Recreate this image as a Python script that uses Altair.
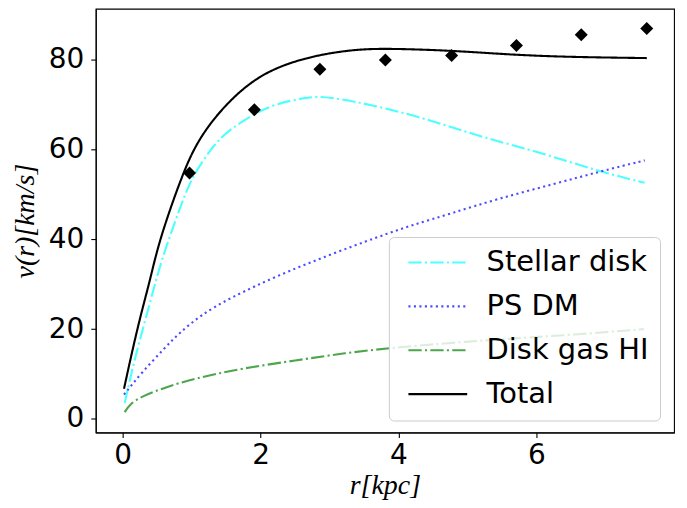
import altair as alt
import pandas as pd

stellar_r = [0.03, 0.17, 0.37, 0.56, 0.82, 0.99, 1.26, 1.50, 1.93, 2.22, 2.70, 3.00, 3.76, 4.48, 5.20, 6.03, 6.94, 7.57]
stellar_v = [3.5, 13.2, 24.3, 35.4, 46.5, 53.5, 59.8, 64.0, 68.2, 70.2, 71.8, 71.8, 69.5, 66.5, 62.8, 59.5, 55.0, 52.6]

dm_r = [0.02, 0.27, 0.61, 0.82, 1.14, 1.55, 2.27, 2.99, 3.71, 4.20, 4.77, 5.45, 6.27, 6.94, 7.57]
dm_v = [5.4, 10.2, 15.8, 19.1, 23.2, 26.9, 32.1, 36.5, 40.6, 43.2, 45.8, 49.1, 52.4, 55.2, 57.6]

gas_r = [0.03, 0.10, 0.27, 0.65, 1.02, 1.74, 2.51, 3.23, 3.90, 4.80, 5.74, 6.50, 7.56]
gas_v = [1.5, 3.2, 5.0, 7.2, 8.9, 11.3, 13.0, 14.7, 15.8, 17.0, 18.0, 18.7, 20.0]

total_r = [0.02, 0.10, 0.25, 0.40, 0.53, 0.87, 1.09, 1.45, 1.98, 2.65, 3.28, 3.76, 4.73, 5.40, 6.00, 6.65, 7.60]
total_v = [6.7, 12.4, 22.5, 31.0, 39.8, 54.7, 62.1, 69.5, 76.9, 80.6, 82.2, 82.6, 82.1, 81.4, 80.9, 80.6, 80.4]

obs_r = [0.97, 1.91, 2.86, 3.81, 4.77, 5.71, 6.65, 7.60]
obs_v = [54.8, 68.9, 77.9, 80.0, 81.0, 83.2, 85.6, 87.0]

series_names = ["Stellar disk", "PS DM", "Disk gas HI", "Total"]
series_colors = ["#4dffff", "#4d4dff", "#4da64d", "#000000"]
series_dashes = [[13.3, 3.3, 2.1, 3.3], [2.1, 3.4], [13.3, 3.3, 2.1, 3.3], [1, 0]]

x_ticks = [0, 2, 4, 6]
y_ticks = [0, 20, 40, 60, 80]

frames = []
for name, rr, vv in zip(series_names, [stellar_r, dm_r, gas_r, total_r],
                        [stellar_v, dm_v, gas_v, total_v]):
    frames.append(pd.DataFrame({"r": rr, "v": vv, "series": name}))
lines_df = pd.concat(frames, ignore_index=True)
obs_df = pd.DataFrame({"r": obs_r, "v": obs_v})

xscale = alt.Scale(domain=[-0.39, 7.995], nice=False, zero=False)
yscale = alt.Scale(domain=[-3.04, 91.4], nice=False, zero=False)

xaxis = alt.Axis(values=x_ticks, title="r[kpc]", labelPadding=4, titlePadding=2, format="d")
yaxis = alt.Axis(values=y_ticks, title="v(r)[km/s]", labelPadding=7, titlePadding=9, format="d")

# line-shaped legend symbol: small nominal size so rows stay compact
legend = alt.Legend(
    orient="none", legendX=294, legendY=229,
    symbolType="M-1,0H9", symbolSize=139, symbolStrokeWidth=2.1,
    labelFontSize=29, labelFont="DejaVu Sans", labelColor="black", labelLimit=400,
    labelOffset=58, padding=11, rowPadding=14,
    fillColor="rgba(255,255,255,0.8)", strokeColor="#cccccc", cornerRadius=5,
)

lines = alt.Chart(lines_df).mark_line(strokeWidth=2.1, interpolate="basis").encode(
    x=alt.X("r:Q", scale=xscale, axis=xaxis),
    y=alt.Y("v:Q", scale=yscale, axis=yaxis),
    color=alt.Color("series:N", title=None,
                    scale=alt.Scale(domain=series_names, range=series_colors),
                    legend=legend, sort=series_names),
    strokeDash=alt.StrokeDash("series:N", title=None,
                              scale=alt.Scale(domain=series_names, range=series_dashes),
                              legend=legend, sort=series_names),
    order=alt.Order("r:Q"),
)

points = alt.Chart(obs_df).mark_point(shape="diamond", filled=True, size=170,
                                      color="black", opacity=1).encode(
    x=alt.X("r:Q", scale=xscale),
    y=alt.Y("v:Q", scale=yscale),
)

chart = alt.layer(lines, points).properties(
    width=580, height=425,
    autosize=alt.AutoSizeParams(type="none"),
    padding={"left": 88, "top": 0, "right": 5, "bottom": 67},
    background="white",
).configure_view(
    stroke="black", strokeWidth=1.1, fill="white"
).configure_axis(
    grid=False,
    labelFont="DejaVu Sans", labelFontSize=28, labelColor="black",
    tickColor="black", tickSize=5, tickWidth=1.1,
    domainColor="black", domainWidth=1.1,
    titleFont="Liberation Serif", titleFontStyle="italic", titleFontWeight="normal",
    titleFontSize=28, titleColor="black",
)

chart.save("out.html", embed_options={"renderer": "svg", "actions": False})
